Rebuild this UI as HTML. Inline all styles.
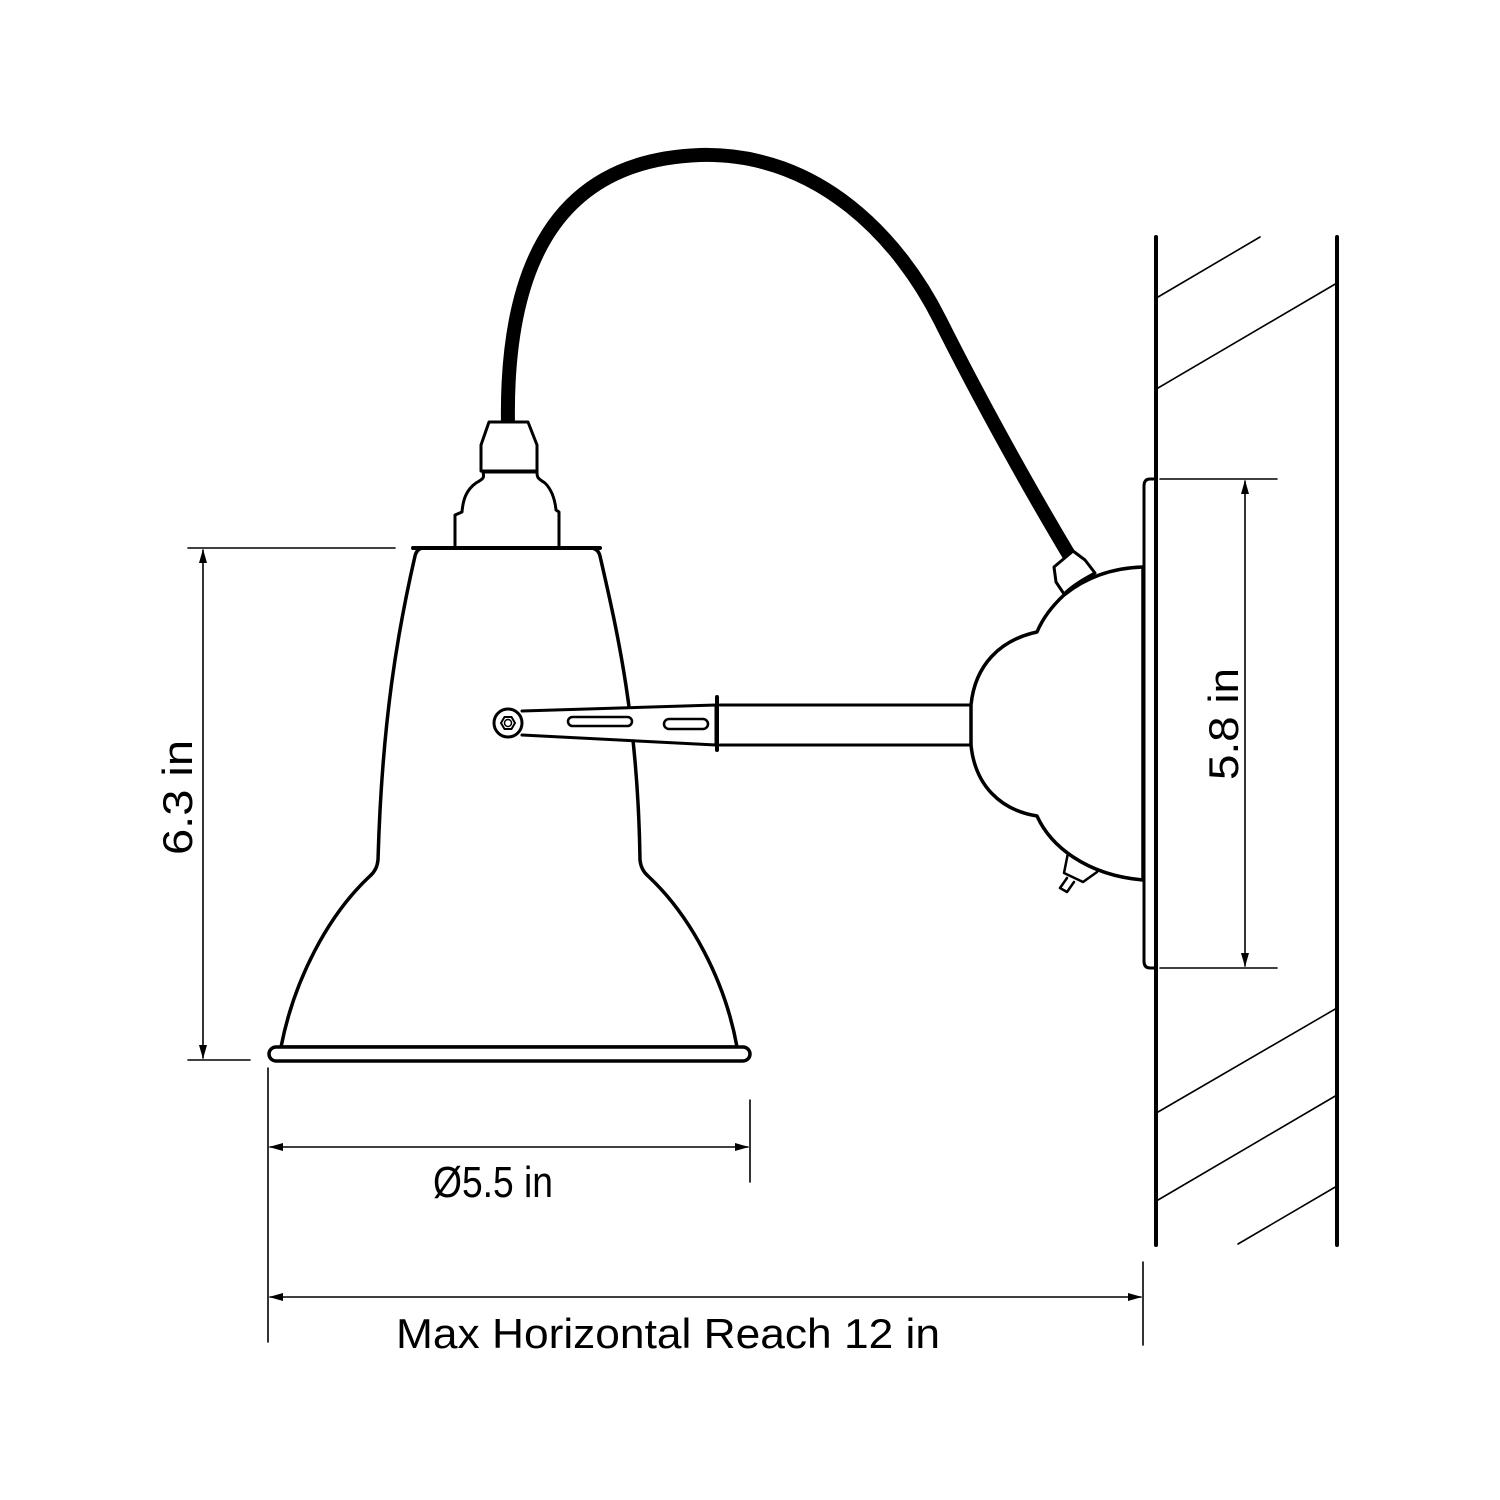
<!DOCTYPE html>
<html><head><meta charset="utf-8"><style>html,body{margin:0;padding:0;background:#fff}svg{display:block}</style></head>
<body>
<svg width="1500" height="1500" viewBox="0 0 1500 1500" xmlns="http://www.w3.org/2000/svg">
<defs>
<marker id="a" markerWidth="14" markerHeight="10" refX="13" refY="5" orient="auto" markerUnits="userSpaceOnUse"><path d="M0,1 L14,5 L0,9 Z" fill="#000"/></marker>
<marker id="b" markerWidth="14" markerHeight="10" refX="1" refY="5" orient="auto" markerUnits="userSpaceOnUse"><path d="M14,1 L0,5 L14,9 Z" fill="#000"/></marker>
</defs>
<g fill="none" stroke="#000" stroke-linecap="round" stroke-linejoin="round">
<line x1="1156" y1="237" x2="1156" y2="1245" stroke-width="4"/>
<line x1="1337" y1="237" x2="1337" y2="1245" stroke-width="4"/>
<g stroke-width="1.6">
<line x1="1158" y1="297" x2="1260" y2="237"/>
<line x1="1158" y1="388" x2="1337" y2="283"/>
<line x1="1158" y1="1112" x2="1337" y2="1008"/>
<line x1="1158" y1="1200" x2="1337" y2="1095"/>
<line x1="1238" y1="1244" x2="1337" y2="1186"/>
</g>
<path d="M1154,479 L1150,479 Q1144,479 1144,486 L1144,961 Q1144,968 1150,968 L1154,968" stroke-width="3"/>
<path d="M1143,567 C1110,568 1085,578 1064,595 C1050,608 1042,620 1037,632 C1000,640 975,665 971,705 L971,745 C975,785 1000,810 1037,816 C1050,845 1085,875 1143,880" stroke-width="3.5" fill="#fff"/>
<line x1="1143" y1="567" x2="1143" y2="880" stroke-width="3.5"/>
<path d="M1068,853 L1064,873 L1083,882 L1097,872" stroke-width="2.5"/>
<path d="M1067,878 L1060,888 L1067,892 L1074,882" stroke-width="2.5"/>
<path d="M720,705 L971,705 M720,745 L971,745" stroke-width="3"/>
<line x1="717" y1="697" x2="717" y2="750" stroke-width="4"/>
<path d="M508,425 C505,260 560,160 700,155 C820,152 900,240 940,320 C980,400 1030,490 1072,560" stroke-width="14"/>
<path d="M1054,567 L1073,551 L1085,560 L1095,573 C1082,580 1072,586 1064,594 L1056,582 Z" stroke-width="3" fill="#fff"/>
<path d="M424,548 L590,548 Q598,548 600,556 C617,630 638,720 640,860 Q641,870 648,876 C690,915 725,980 737,1047 L281,1047 C294,980 328,915 370,876 Q377,870 378,860 C382,720 398,630 415,556 Q417,548 424,548 Z" stroke-width="3.5" fill="#fff"/>
<rect x="269" y="1047" width="481" height="14" rx="7" stroke-width="3.5" fill="#fff"/>
<line x1="413" y1="548" x2="600" y2="548" stroke-width="4"/>
<path d="M522,711 L716,705 L716,745 L522,735" stroke-width="3" fill="#fff"/>
<rect x="568" y="717" width="64" height="9" rx="4.5" stroke-width="2.5"/>
<rect x="664" y="719" width="44" height="10" rx="5" stroke-width="2.5"/>
<circle cx="508" cy="723" r="14" stroke-width="3" fill="#fff"/>
<polygon points="515,723 511.5,729 504.5,729 501,723 504.5,717 511.5,717" stroke-width="2"/>
<circle cx="508" cy="723" r="3.5" stroke-width="1.5"/>
<path d="M455,546 L455,515 L462,512 C463,500 466,490 476,483 C485,478 484,477 483,472 L537,472 C537,477 537,478 545,483 C552,490 555,500 556,510 L559,512 L559,546" stroke-width="3" fill="#fff"/>
<path d="M481,471 L481,445 L489,422 L528,422 L537,445 L537,471 Z" stroke-width="3" fill="#fff"/>
<g stroke-width="1.6">
<line x1="188" y1="548" x2="395" y2="548"/>
<line x1="188" y1="1060" x2="250" y2="1060"/>
<line x1="203" y1="550" x2="203" y2="1058" marker-start="url(#b)" marker-end="url(#a)"/>
<line x1="1160" y1="479" x2="1277" y2="479"/>
<line x1="1160" y1="968" x2="1277" y2="968"/>
<line x1="1245" y1="481" x2="1245" y2="966" marker-start="url(#b)" marker-end="url(#a)"/>
<line x1="268" y1="1068" x2="268" y2="1342"/>
<line x1="750" y1="1100" x2="750" y2="1182"/>
<line x1="270" y1="1147" x2="748" y2="1147" marker-start="url(#b)" marker-end="url(#a)"/>
<line x1="1143" y1="1262" x2="1143" y2="1345"/>
<line x1="270" y1="1297" x2="1141" y2="1297" marker-start="url(#b)" marker-end="url(#a)"/>
</g>
</g>
<g font-family="Liberation Sans, sans-serif" font-size="42" fill="#000">
<text x="433" y="1197" font-size="44" textLength="120" lengthAdjust="spacingAndGlyphs">Ø5.5 in</text>
<text x="396" y="1348" textLength="544" lengthAdjust="spacingAndGlyphs">Max Horizontal Reach 12 in</text>
<text transform="translate(192,855) rotate(-90)" textLength="115" lengthAdjust="spacingAndGlyphs">6.3 in</text>
<text transform="translate(1238,780) rotate(-90)" textLength="112" lengthAdjust="spacingAndGlyphs">5.8 in</text>
</g>
</svg>
</body></html>
